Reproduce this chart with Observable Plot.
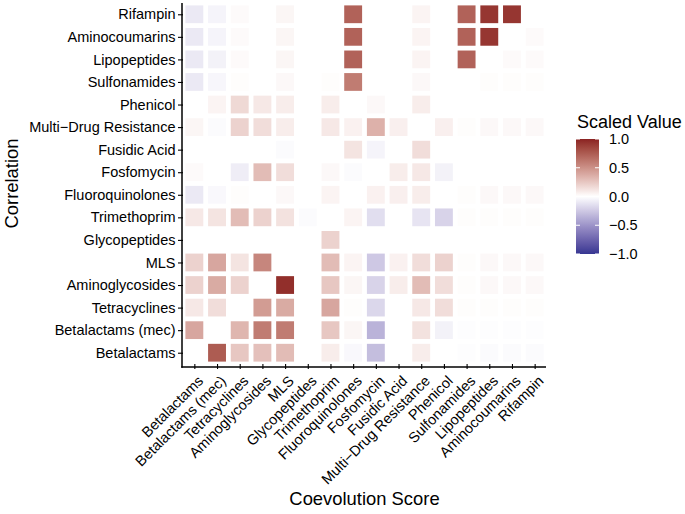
<!DOCTYPE html>
<html>
<head>
<meta charset="utf-8">
<script src="https://cdn.jsdelivr.net/npm/d3@7"></script>
<script src="https://cdn.jsdelivr.net/npm/@observablehq/plot@0.6"></script>
<style>
  html, body { margin: 0; padding: 0; background: #fff; }
  #wrap { position: relative; width: 685px; height: 514px; font-family: "Liberation Sans", Arial, sans-serif; }
  #chart { position: absolute; left: 0; top: 0; }
  #legend { position: absolute; left: 570px; top: 105px; }
</style>
</head>
<body>
<div id="wrap"><div id="chart"></div><div id="legend"></div></div>
<script>
// Categories (x axis order, left to right; y axis uses the same list bottom to top)
const categories = ["Betalactams", "Betalactams (mec)", "Tetracyclines", "Aminoglycosides", "MLS",
  "Glycopeptides", "Trimethoprim", "Fluoroquinolones", "Fosfomycin", "Fusidic Acid",
  "Multi\u2212Drug Resistance", "Phenicol", "Sulfonamides", "Lipopeptides", "Aminocoumarins", "Rifampin"];

// Row values (one row per Correlation category), columns follow `categories`; null = no tile
const rowBetalactams      = [null, 0.75, 0.25, 0.28, 0.30, null, 0.08, -0.03, -0.30, null, 0.08, null, -0.01, -0.02, -0.02, -0.02];
const rowBetalactamsMec   = [0.40, null, 0.33, 0.60, 0.60, null, 0.25, 0.04, -0.35, null, 0.13, -0.06, -0.01, -0.01, -0.01, -0.01];
const rowTetracyclines    = [0.10, 0.15, null, 0.45, 0.38, null, 0.40, 0.01, -0.18, null, 0.10, 0.15, 0.01, 0.01, 0.01, 0.01];
const rowAminoglycosides  = [0.20, 0.38, 0.20, null, 0.95, null, 0.25, 0.04, -0.20, 0.08, 0.30, 0.15, 0.01, 0.03, 0.03, 0.03];
const rowMLS              = [0.20, 0.40, 0.12, 0.55, null, null, 0.30, 0.05, -0.25, 0.06, 0.15, 0.20, 0.01, 0.03, 0.03, 0.03];
const rowGlycopeptides    = [null, null, null, null, null, null, 0.20, null, null, null, null, null, null, null, null, null];
const rowTrimethoprim     = [0.10, 0.12, 0.30, 0.20, 0.13, -0.02, null, 0.05, -0.15, null, -0.12, -0.20, 0.01, 0.01, 0.01, 0.01];
const rowFluoroquinolones = [-0.10, -0.03, 0.01, null, 0.03, null, 0.05, null, 0.06, 0.07, 0.08, null, 0.01, 0.03, 0.03, 0.03];
const rowFosfomycin       = [0.02, null, -0.08, 0.30, 0.15, null, 0.03, -0.02, null, 0.08, 0.10, -0.06, null, null, null, null];
const rowFusidicAcid      = [null, null, null, null, -0.02, null, null, 0.12, -0.05, null, 0.15, null, null, null, null, null];
const rowMultiDrug        = [0.04, -0.02, 0.20, 0.15, 0.08, null, 0.10, 0.06, 0.35, 0.07, null, 0.07, 0.01, 0.03, 0.03, 0.03];
const rowPhenicol         = [null, 0.05, 0.17, 0.10, 0.08, null, 0.08, null, 0.03, null, 0.08, null, null, null, null, null];
const rowSulfonamides     = [-0.10, -0.04, 0.01, null, 0.03, null, 0.01, 0.60, null, null, 0.03, null, null, 0.01, 0.01, 0.01];
const rowLipopeptides     = [-0.10, -0.06, 0.02, null, 0.04, null, null, 0.72, null, null, 0.05, null, 0.72, null, 0.02, 0.02];
const rowAminocoumarins   = [-0.10, -0.05, 0.02, null, 0.04, null, null, 0.72, null, null, 0.05, null, 0.72, 0.92, null, 0.02];
const rowRifampin         = [-0.10, -0.05, 0.02, null, 0.04, null, null, 0.72, null, null, 0.05, null, 0.72, 0.92, 0.92, null];

const rows = [rowBetalactams, rowBetalactamsMec, rowTetracyclines, rowAminoglycosides, rowMLS,
  rowGlycopeptides, rowTrimethoprim, rowFluoroquinolones, rowFosfomycin, rowFusidicAcid,
  rowMultiDrug, rowPhenicol, rowSulfonamides, rowLipopeptides, rowAminocoumarins, rowRifampin];

const legendTicks = [1.0, 0.5, 0.0, -0.5, -1.0];
const colorLow = "#363692", colorMid = "#ffffff", colorHigh = "#8b2222";

const data = [];
rows.forEach((vals, i) => vals.forEach((v, j) => {
  if (v !== null) data.push({x: categories[j], y: categories[i], value: v});
}));

const font = "'Liberation Sans', Arial, sans-serif";

const plot = Plot.plot({
  width: 565,
  height: 514,
  marginLeft: 183,
  marginRight: 19,
  marginTop: 3,
  marginBottom: 150,
  style: {fontFamily: font, fontSize: "14.5px", color: "#000", background: "#fff"},
  x: {domain: categories, padding: 0, round: false, label: null},
  y: {domain: categories.slice().reverse(), padding: 0, round: false, label: null},
  color: {type: "linear", domain: [-1, 0, 1], range: [colorLow, colorMid, colorHigh], interpolate: "lab"},
  marks: [
    Plot.cell(data, {x: "x", y: "y", fill: "value", inset: 2.4}),
    // tick marks only
    Plot.axisX({tickSize: 5, tickFormat: () => "", label: null, stroke: "#000", strokeWidth: 1.1}),
    // rotated tick labels only
    Plot.axisX({tickSize: 0, tickRotate: -45, tickPadding: 7, dx: 6, dy: 7, label: null, fontSize: 14.5, fill: "#000"}),
    Plot.axisY({tickSize: 5, tickPadding: 3, label: null, fontSize: 14.5, stroke: "#000", strokeWidth: 1.1})
  ]
});
document.getElementById("chart").appendChild(plot);

// axis lines and titles
const svgSel = d3.select(plot);
const xr = plot.scale("x").range, yr = plot.scale("y").range;
const axLeft = xr[0] - 1, axRight = xr[1], axTop = yr[0], axBottom = yr[1] + 3;
svgSel.append("line").attr("x1", axLeft).attr("x2", axLeft).attr("y1", axTop).attr("y2", axBottom + 0.75)
  .attr("stroke", "#000").attr("stroke-width", 1.5);
svgSel.append("line").attr("x1", axLeft - 0.75).attr("x2", axRight).attr("y1", axBottom).attr("y2", axBottom)
  .attr("stroke", "#000").attr("stroke-width", 1.5);
svgSel.append("text").text("Coevolution Score")
  .attr("x", (xr[0] + xr[1]) / 2).attr("y", 505)
  .attr("text-anchor", "middle").attr("font-family", font).attr("font-size", 18.4).attr("fill", "#000");
svgSel.append("text").text("Correlation")
  .attr("transform", `translate(18,${(yr[0] + yr[1]) / 2}) rotate(-90)`)
  .attr("text-anchor", "middle").attr("font-family", font).attr("font-size", 18.4).attr("fill", "#000");

// vertical colour legend
const lw = 23, lh = 115;
const leg = d3.select("#legend").append("svg").attr("width", 115).attr("height", 170);
leg.append("text").text("Scaled Value").attr("x", 7).attr("y", 23)
  .attr("font-family", font).attr("font-size", 18).attr("fill", "#000");
const grad = leg.append("defs").append("linearGradient").attr("id", "g")
  .attr("x1", 0).attr("x2", 0).attr("y1", 0).attr("y2", 1);
const cs = d3.scaleLinear().domain([-1, 0, 1]).range([colorLow, colorMid, colorHigh]).interpolate(d3.interpolateLab);
d3.range(0, 41).forEach(i => {
  const v = 1 - i / 20;
  grad.append("stop").attr("offset", `${(i / 40) * 100}%`).attr("stop-color", cs(v));
});
const ly = d3.scaleLinear().domain([1, -1]).range([34, 34 + lh]);
leg.append("rect").attr("x", 6).attr("y", 34).attr("width", lw).attr("height", lh).attr("fill", "url(#g)");
legendTicks.forEach(t => {
  leg.append("line").attr("x1", 6).attr("x2", 10).attr("y1", ly(t)).attr("y2", ly(t)).attr("stroke", "#fff").attr("stroke-width", 1);
  leg.append("line").attr("x1", 6 + lw - 4).attr("x2", 6 + lw).attr("y1", ly(t)).attr("y2", ly(t)).attr("stroke", "#fff").attr("stroke-width", 1);
  leg.append("text").text(d3.format(".1f")(t).replace("-", "\u2212"))
    .attr("x", 39).attr("y", ly(t)).attr("dy", "0.35em")
    .attr("font-family", font).attr("font-size", 14.5).attr("fill", "#000");
});
</script>
</body>
</html>
